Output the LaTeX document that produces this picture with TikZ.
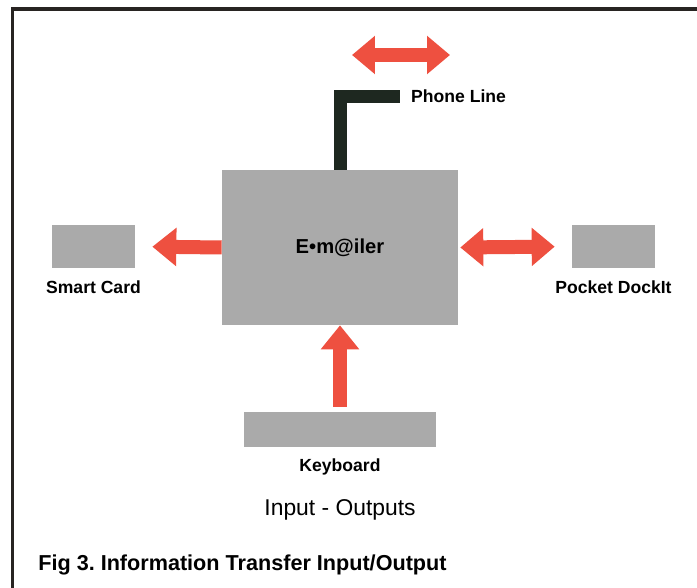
\documentclass[tikz,border=0pt]{standalone}
\usepackage{fontspec}
\setmainfont{Liberation Sans}
\usepackage{xcolor}
\usepackage{tikz}
\usetikzlibrary{arrows.meta, positioning}

\definecolor{boxgrey}{RGB}{170,170,170}
\definecolor{arrowred}{RGB}{238,80,64}
\definecolor{linedark}{RGB}{30,40,32}
\definecolor{framedark}{RGB}{40,36,34}
\frenchspacing

\begin{document}
\begin{tikzpicture}[x=0.02cm, y=-0.02cm, node distance=0.1cm, font=\fontsize{10}{12}\selectfont\bfseries]
\tikzstyle{unit} = [rectangle, fill=boxgrey, inner sep=0pt]
\tikzstyle{fat} = [draw=arrowred, line width=0.28cm, -{Triangle[width=0.74cm, length=0.48cm, fill=arrowred]}]
\tikzstyle{fatboth} = [draw=arrowred, line width=0.28cm, {Triangle[width=0.74cm, length=0.46cm, fill=arrowred]}-{Triangle[width=0.74cm, length=0.46cm, fill=arrowred]}]
\tikzstyle{cable} = [draw=linedark, line width=0.26cm, line join=miter]

% canvas and frame
\useasboundingbox (0,0) rectangle (697,588);
\fill[white] (0,0) rectangle (697,588);
\clip (0,0) rectangle (697,588);
\draw[framedark, line width=2.2pt] (12.5,9) rectangle (720,610);

% units
\node (emailer) [unit, minimum width=4.72cm, minimum height=3.1cm] at (340,247.5) {\fontsize{11.5}{13}\selectfont E•m@iler};
\node (smartcard) [unit, minimum width=1.66cm, minimum height=0.86cm] at (93.5,246.5) {};
\node (dockit) [unit, minimum width=1.66cm, minimum height=0.86cm] at (613.5,246.5) {};
\node (keyboard) [unit, minimum width=3.84cm, minimum height=0.7cm] at (340,429.5) {};

\node (cardlbl) [below=0.12cm of smartcard] {Smart Card};
\node (docklbl) [below=0.12cm of dockit] {Pocket DockIt};
\node (keylbl) [below=0.1cm of keyboard] {Keyboard};

% phone line
\coordinate (lineend) at (400,96.5);
\draw [cable] (emailer.north) |- (lineend);
\node (phonelbl) [right=0.1cm of lineend] {Phone Line};

\coordinate (lineleft) at (352,55);
\coordinate (lineright) at (450,55);
\draw [fatboth] (lineleft) -- (lineright);

% flows
\draw [fat, shorten >=0.34cm] (emailer.west) -- (smartcard.east);
\draw [fatboth, shorten <=0.04cm, shorten >=0.34cm] (emailer.east) -- (dockit.west);
\draw [fat, shorten <=0.1cm] (keyboard.north) -- (emailer.south);

\node (io) at (340,510) {\fontsize{13}{15}\selectfont\mdseries Input - Outputs};
\node (caption) [anchor=west, inner sep=0pt] at (38,565) {\fontsize{12.3}{14}\selectfont Fig 3. Information Transfer Input/Output};
\end{tikzpicture}
\end{document}
